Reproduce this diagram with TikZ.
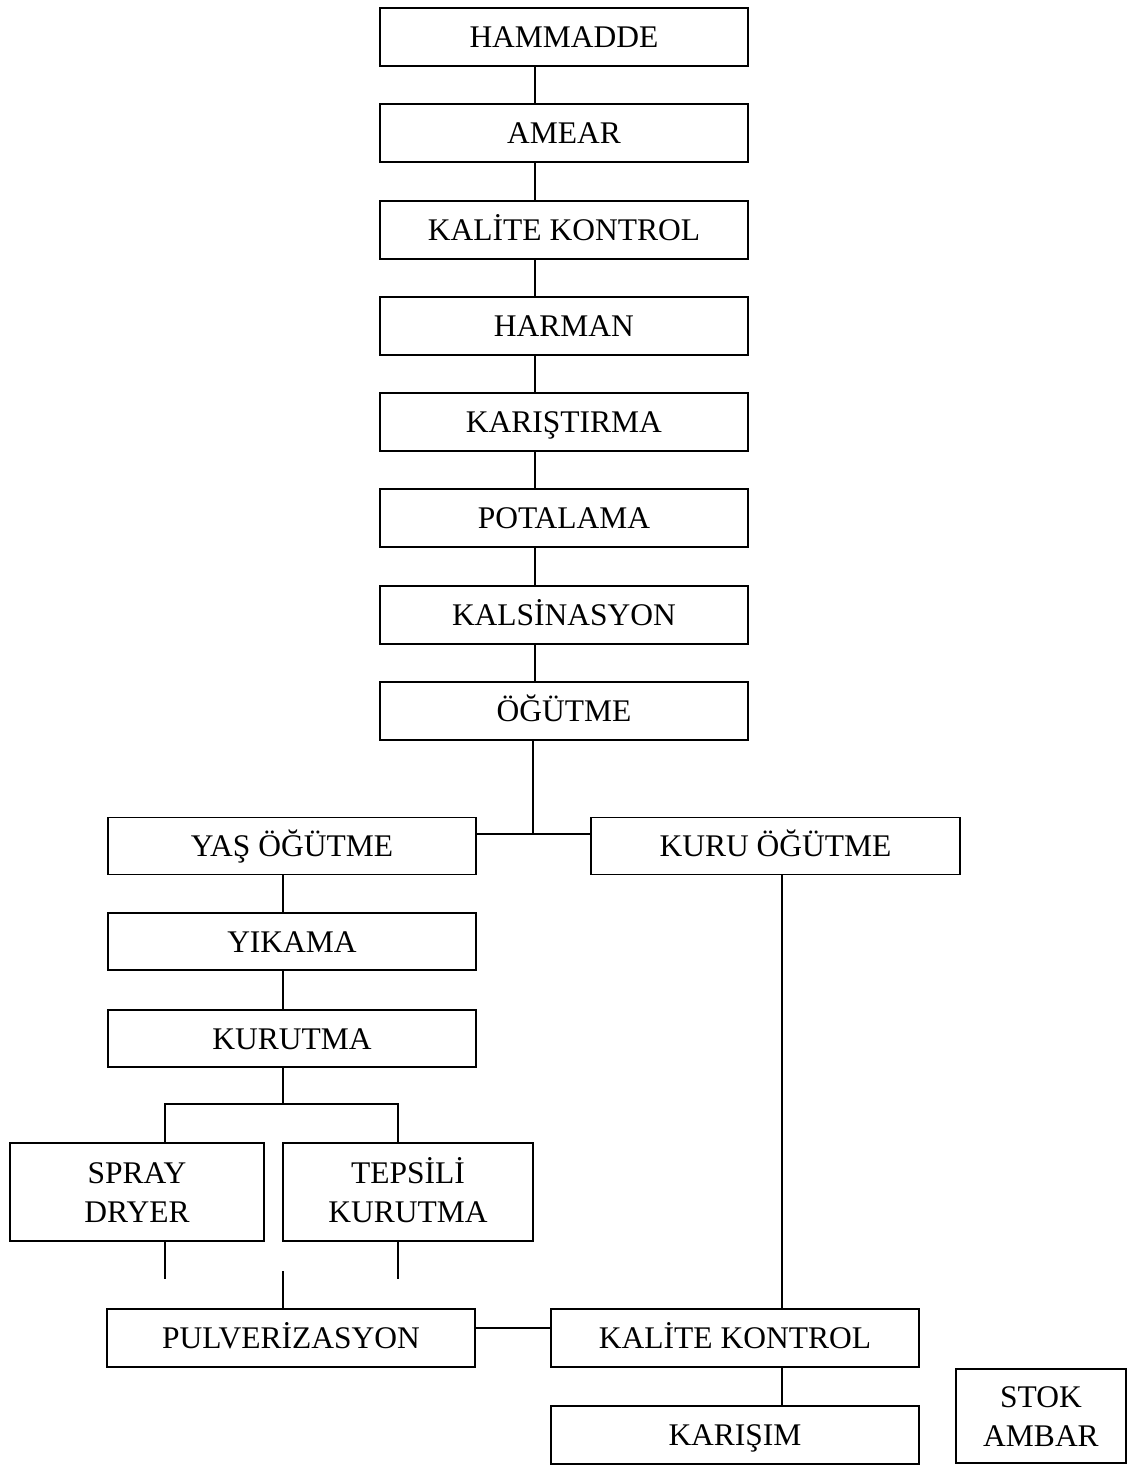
\documentclass[tikz,border=0pt]{standalone}
\usepackage{fontspec}
\setmainfont{Liberation Serif}
\usetikzlibrary{positioning}

\tikzset{
  box/.style={draw, line width=1.6pt, rectangle, minimum width=368pt, minimum height=58pt, inner sep=0pt, text height=21pt, text depth=0pt, align=center, font=\fontsize{31.5}{39}\selectfont},
  twoline/.style={text height=60pt, minimum height=98pt},
  link/.style={line width=1.6pt}
}

\begin{document}
\begin{tikzpicture}[x=1pt, y=-1pt]
\useasboundingbox (0,0) rectangle (1130,1465);

% ana hat
\node [box] (hammadde) at (564,37) {HAMMADDE};
\node [box] (amear) at (564,133) {AMEAR};
\node [box] (kalite) at (564,230) {KALİTE KONTROL};
\node [box] (harman) at (564,326) {HARMAN};
\node [box] (karistirma) at (564,422) {KARIŞTIRMA};
\node [box] (potalama) at (564,518) {POTALAMA};
\node [box] (kalsinasyon) at (564,615) {KALSİNASYON};
\node [box] (ogutme) at (564,711) {ÖĞÜTME};

% ogutme kollari
\node [box, minimum height=57pt] (yas) at (292,846) {YAŞ ÖĞÜTME};
\node [box, minimum height=57pt, minimum width=369pt] (kuru) at (775.5,846) {KURU ÖĞÜTME};
\node [box, minimum height=57pt] (yikama) at (292,941.5) {YIKAMA};
\node [box, minimum height=57pt] (kurutma) at (292,1038.5) {KURUTMA};
\node [box, twoline, minimum width=254pt] (spray) at (137,1192) {SPRAY\\DRYER};
\node [box, twoline, minimum width=250pt] (tepsili) at (408,1192) {TEPSİLİ\\KURUTMA};

% son kisim
\node [box] (pulv) at (291,1338) {PULVERİZASYON};
\node [box] (kalite2) at (735,1338) {KALİTE KONTROL};
\node [box] (karisim) at (735,1435) {KARIŞIM};
\node [box, twoline, minimum width=170pt, minimum height=94pt] (stok) at (1041,1416) {STOK\\AMBAR};

\coordinate (sp) at (535,0);
\coordinate (jn) at (533,834);
\coordinate (wl) at (283,0);
\coordinate (brl) at (165,1104);
\coordinate (brr) at (398,1104);
\coordinate (dl) at (165,1279);
\coordinate (dr) at (398,1279);
\coordinate (dm) at (283,1271);
\coordinate (lk) at (500,1328);
\coordinate (kx) at (782,0);

\foreach \a/\b in {hammadde/amear, amear/kalite, kalite/harman, harman/karistirma, karistirma/potalama, potalama/kalsinasyon, kalsinasyon/ogutme}
  \draw [link] (\a.south -| sp) -- (\b.north -| sp);

\draw [link] (ogutme.south -| jn) -- (jn);
\draw [link] (yas.east |- jn) -- (kuru.west |- jn);
\draw [link] (yas.south -| wl) -- (yikama.north -| wl);
\draw [link] (yikama.south -| wl) -- (kurutma.north -| wl);
\draw [link] (kurutma.south -| wl) -- (wl |- brl);
\draw [link] (spray.north -| brl) -- (brl) -- (brr) -- (tepsili.north -| brr);
\draw [link] (spray.south -| dl) -- (dl);
\draw [link] (tepsili.south -| dr) -- (dr);
\draw [link] (dm) -- (pulv.north -| dm);
\draw [link] (pulv.east |- lk) -- (kalite2.west |- lk);
\draw [link] (kuru.south -| kx) -- (kalite2.north -| kx);
\draw [link] (kalite2.south -| kx) -- (karisim.north -| kx);
\end{tikzpicture}
\end{document}
